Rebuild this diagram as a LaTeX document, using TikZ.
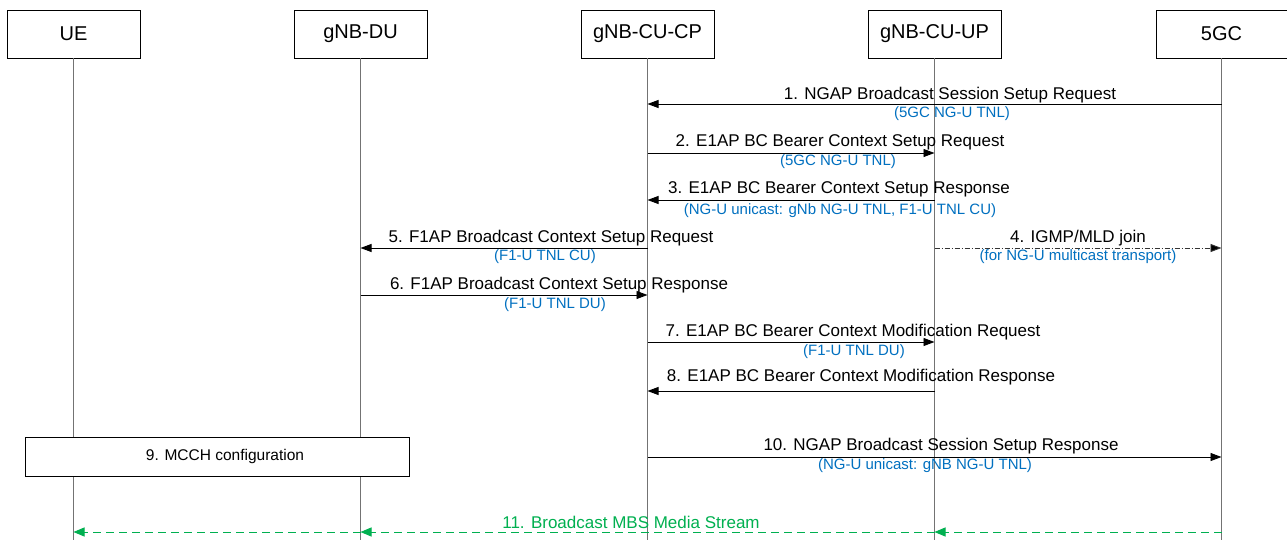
\documentclass[tikz,border=0pt]{standalone}
\usepackage{fontspec}
\setmainfont{Liberation Sans}
\usetikzlibrary{arrows.meta}
\definecolor{lblue}{HTML}{0070C0}
\definecolor{lgreen}{HTML}{00B050}
\begin{document}
\begin{tikzpicture}[x=1pt,y=-1pt,
  entity/.style={draw=black,line width=0.8pt,fill=white,minimum width=133pt,minimum height=48pt,inner sep=0pt,font=\fontsize{20}{24}\selectfont},
  life/.style={draw=black!55,line width=1pt},
  msg/.style={draw=black,line width=0.9pt,-{Triangle[length=11pt,width=8pt]}},
  msgdd/.style={draw=black!80,line width=0.9pt,dash pattern=on 5pt off 2pt on 1pt off 2pt,-{Triangle[length=11pt,width=8pt,fill=black]}},
  stream/.style={draw=lgreen,line width=1pt,dash pattern=on 8pt off 5pt,-{Triangle[length=11pt,width=9pt,fill=lgreen]}},
  lbl/.style={font=\fontsize{17}{20}\selectfont,inner sep=0pt,anchor=center},
  sub/.style={font=\fontsize{15}{18}\selectfont,text=lblue,inner sep=0pt,anchor=center},
  actbox/.style={draw=black,line width=0.8pt,fill=white,minimum width=384pt,minimum height=39pt,inner sep=0pt,font=\fontsize{15.5}{19}\selectfont}]
\useasboundingbox[fill=white] (0,0) rectangle (1287,540);
% entities
\node[entity] (ue) at (73.5,34) {UE};
\node[entity] (du) at (360.5,34) {gNB-DU};
\node[entity] (cp) at (647.5,34) {gNB-CU-CP};
\node[entity] (up) at (934.5,34) {gNB-CU-UP};
\node[entity,minimum width=131pt] (gc) at (1221.5,34) {5GC};
% rows
\coordinate (bot) at (0,540);
\coordinate (y1) at (0,104);
\coordinate (y2) at (0,153);
\coordinate (y3) at (0,200);
\coordinate (y5) at (0,248);
\coordinate (y6) at (0,295);
\coordinate (y7) at (0,342);
\coordinate (y8) at (0,391);
\coordinate (y10) at (0,457);
\coordinate (y11) at (0,532);
% lifelines
\foreach \e in {ue,du,cp,up,gc} \draw[life] (\e.south) -- (\e.south |- bot);
% box 9
\node[actbox] (mcch) at (217,456.5) {};
\node[font=\fontsize{15.5}{19}\selectfont,inner sep=0pt] (l9) at (225,456) {9. MCCH configuration};
% messages
\draw[msg] (gc |- y1) -- (cp |- y1);
\node[lbl] (l1) at (950,95) {1. NGAP Broadcast Session Setup Request};
\node[sub] (s1) at (952,114) {(5GC NG-U TNL)};
\draw[msg] (cp |- y2) -- (up |- y2);
\node[lbl] (l2) at (840,142) {2. E1AP BC Bearer Context Setup Request};
\node[sub] (s2) at (838,162) {(5GC NG-U TNL)};
\draw[msg] (up |- y3) -- (cp |- y3);
\node[lbl] (l3) at (839,189) {3. E1AP BC Bearer Context Setup Response};
\node[sub] (s3) at (840,211) {(NG-U unicast: gNb NG-U TNL, F1-U TNL CU)};
\draw[msg] (cp |- y5) -- (du |- y5);
\node[lbl] (l5) at (551,238) {5. F1AP Broadcast Context Setup Request};
\node[sub] (s5) at (545,257) {(F1-U TNL CU)};
\draw[msgdd] (up |- y5) -- (gc |- y5);
\node[lbl] (l4) at (1078,238) {4. IGMP/MLD join};
\node[sub] (s4) at (1078,257) {(for NG-U multicast transport)};
\draw[msg] (du |- y6) -- (cp |- y6);
\node[lbl] (l6) at (559,285) {6. F1AP Broadcast Context Setup Response};
\node[sub] (s6) at (555,305) {(F1-U TNL DU)};
\draw[msg] (cp |- y7) -- (up |- y7);
\node[lbl] (l7) at (853,332) {7. E1AP BC Bearer Context Modification Request};
\node[sub] (s7) at (854,352) {(F1-U TNL DU)};
\draw[msg] (up |- y8) -- (cp |- y8);
\node[lbl] (l8) at (861,377) {8. E1AP BC Bearer Context Modification Response};
\draw[msg] (cp |- y10) -- (gc |- y10);
\node[lbl] (l10) at (941,446) {10. NGAP Broadcast Session Setup Response};
\node[sub] (s10) at (925,466) {(NG-U unicast: gNB NG-U TNL)};
% stream
\draw[stream] (gc |- y11) -- (up |- y11);
\draw[stream] (up |- y11) -- (du |- y11);
\draw[stream] (du |- y11) -- (ue |- y11);
\node[lbl,text=lgreen] (l11) at (631,522) {11. Broadcast MBS Media Stream};
\end{tikzpicture}
\end{document}
